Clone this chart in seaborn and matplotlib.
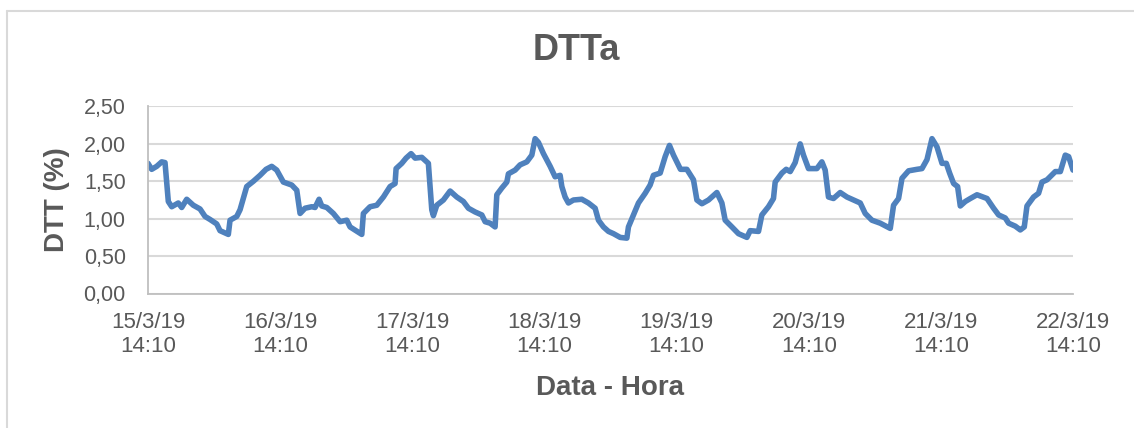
import pandas as pd
import matplotlib
matplotlib.use("Agg")
import matplotlib.pyplot as plt
import matplotlib.lines as mlines
import seaborn as sns

# horas desde 15/3/19 14:10 e valores de DTT (%)
horas = [0, 0.67, 1.58, 2.49, 3.09, 3.69, 4.31, 5.50, 6.12, 7.03, 8.23, 9.45, 10.36,
         11.26, 12.48, 13.08, 14.59, 14.90, 16.12, 16.72, 17.93, 19.13, 20.35, 21.44,
         22.47, 23.38, 24.58, 26.11, 27.02, 27.62, 28.52, 29.74, 30.34, 31.07, 31.56,
         32.47, 33.67, 34.89, 36.10, 36.70, 38.83, 39.12, 40.33, 41.55, 42.75, 43.97,
         44.87, 45.06, 46.09, 46.87, 47.78, 48.51, 49.73, 50.92, 51.54, 51.83, 52.45,
         53.65, 54.87, 56.08, 57.28, 58.19, 59.41, 60.63, 61.23, 62.13, 63.04, 63.35,
         64.26, 65.17, 65.46, 66.68, 67.58, 68.80, 69.71, 70.31, 70.91, 71.82, 73.04,
         73.94, 74.85, 75.16, 75.76, 76.36, 77.27, 78.79, 79.99, 81.21, 81.81, 82.72,
         83.63, 84.54, 85.76, 86.97, 87.26, 88.17, 89.08, 90.30, 91.20, 91.80, 93.02,
         93.93, 94.71, 95.44, 96.71, 97.87, 99.07, 99.69, 100.60, 101.80, 103.32,
         104.23, 104.83, 106.05, 107.24, 108.77, 109.37, 110.88, 111.49, 112.69,
         113.60, 113.91, 115.13, 115.91, 116.64, 117.54, 118.45, 119.05, 119.96,
         121.49, 122.39, 122.99, 123.59, 124.50, 125.72, 126.94, 128.14, 129.36,
         130.26, 131.48, 132.99, 134.81, 135.41, 136.32, 136.94, 138.14, 139.66,
         140.57, 141.48, 142.39, 143.30, 144.21, 144.99, 145.59, 146.32, 147.04,
         147.53, 148.44, 149.35, 150.56, 152.38, 153.58, 154.49, 155.70, 156.30,
         157.52, 158.43, 159.15, 159.64, 160.84, 161.75, 162.37, 163.28, 164.79,
         165.70, 166.60, 167.21, 168.0]
dtt = [1.74, 1.66, 1.70, 1.76, 1.75, 1.23, 1.16, 1.21, 1.15, 1.26, 1.18, 1.13, 1.03,
       0.99, 0.93, 0.84, 0.79, 0.98, 1.03, 1.12, 1.43, 1.50, 1.58, 1.66,
       1.70, 1.65, 1.49, 1.45, 1.38, 1.07, 1.14, 1.16, 1.15, 1.26, 1.17,
       1.15, 1.07, 0.96, 0.98, 0.89, 0.79, 1.07, 1.16, 1.18, 1.29, 1.43,
       1.47, 1.67, 1.74, 1.81, 1.87, 1.81, 1.82, 1.74, 1.12, 1.04, 1.18,
       1.25, 1.37, 1.29, 1.23, 1.14, 1.09, 1.05, 0.96, 0.94, 0.89, 1.32,
       1.41, 1.49, 1.60, 1.65, 1.72, 1.76, 1.85, 2.07, 2.02, 1.87, 1.70,
       1.56, 1.58, 1.43, 1.29, 1.21, 1.25, 1.26, 1.21, 1.14, 0.98, 0.89,
       0.83, 0.80, 0.75, 0.74, 0.89, 1.05, 1.21, 1.34, 1.45, 1.58, 1.61,
       1.83, 1.98, 1.85, 1.66, 1.66, 1.52, 1.25, 1.20, 1.25, 1.35,
       1.21, 0.98, 0.89, 0.80, 0.75, 0.84, 0.83, 1.05, 1.16,
       1.27, 1.49, 1.61, 1.66, 1.63, 1.75, 2.00, 1.85, 1.67,
       1.67, 1.76, 1.65, 1.29, 1.27, 1.35, 1.29, 1.25, 1.21,
       1.07, 0.98, 0.94, 0.87, 1.18, 1.27, 1.54, 1.64, 1.66,
       1.67, 1.79, 2.07, 1.96, 1.74, 1.74, 1.61, 1.47, 1.43,
       1.17, 1.23, 1.27, 1.32, 1.27, 1.14, 1.05, 1.01, 0.94,
       0.90, 0.85, 0.89, 1.17, 1.29, 1.34, 1.49, 1.52, 1.63,
       1.63, 1.85, 1.83, 1.65]

inicio = pd.Timestamp("2019-03-15 14:10")
ticks = [inicio + pd.Timedelta(days=i) for i in range(8)]
tick_labels = [f"{t.day}/{t.month}/19\n14:10" for t in ticks]
yticks = [0, 0.5, 1.0, 1.5, 2.0, 2.5]

df = pd.DataFrame({"data": inicio + pd.to_timedelta(horas, unit="h"), "dtt": dtt})

sns.set_style("white")
plt.rcParams["font.family"] = ["Liberation Sans", "DejaVu Sans"]
txt = "#595959"
grid = "#D9D9D9"

fig = plt.figure(figsize=(11.34, 4.28), dpi=100)
ax = fig.add_axes([148 / 1134, 1 - 293.5 / 428, 925 / 1134, 187 / 428])

sns.lineplot(data=df, x="data", y="dtt", ax=ax, color="#4F81BD", linewidth=4,
             solid_joinstyle="round", solid_capstyle="round")

ax.set_xlim(ticks[0], ticks[-1])
ax.set_ylim(0, 2.5)
ax.set_xticks(ticks)
ax.set_xticklabels(tick_labels, fontsize=16, color=txt)
ax.set_yticks(yticks)
ax.set_yticklabels([f"{v:.2f}".replace(".", ",") for v in yticks], fontsize=15.5, color=txt)
ax.yaxis.grid(True, color=grid, linewidth=1.5)
ax.set_axisbelow(True)
for s in ["top", "right"]:
    ax.spines[s].set_visible(False)
for s in ["left", "bottom"]:
    ax.spines[s].set_color("#BFBFBF")
    ax.spines[s].set_linewidth(1.3)
ax.tick_params(axis="both", direction="out", length=5, width=1.3, color="#BFBFBF")
ax.tick_params(axis="y", pad=11)
ax.tick_params(axis="x", pad=8)

ax.set_xlabel("")
ax.set_ylabel("")
fig.text(610 / 1134, 1 - 388 / 428, "Data - Hora", ha="center", va="center",
         fontsize=20, fontweight="bold", color=txt)
fig.text(57 / 1134, 1 - 200 / 428, "DTT (%)", ha="center", va="center", rotation=90,
         fontsize=20, fontweight="bold", color=txt)
fig.text(576 / 1134, 1 - 51 / 428, "DTTa", ha="center", va="center",
         fontsize=26, fontweight="bold", color=txt)

# borda do grafico (so topo e esquerda visiveis)
fig.add_artist(mlines.Line2D([7 / 1134, 1], [1 - 11 / 428, 1 - 11 / 428],
                             transform=fig.transFigure, color="#D9D9D9", linewidth=1.5))
fig.add_artist(mlines.Line2D([7 / 1134, 7 / 1134], [0, 1 - 11 / 428],
                             transform=fig.transFigure, color="#D9D9D9", linewidth=1.5))

fig.savefig("out.png", dpi=100)
